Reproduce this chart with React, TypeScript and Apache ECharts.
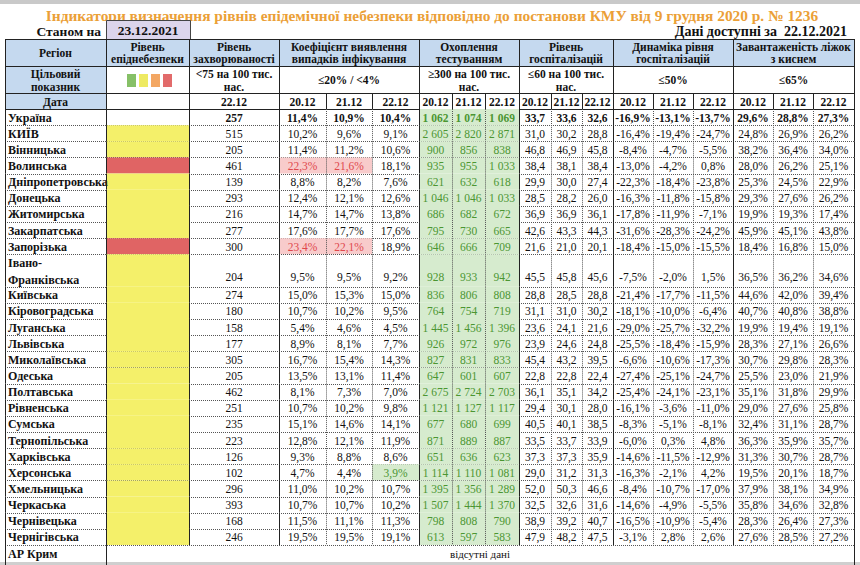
import React, { useEffect, useRef } from "react";
import * as echarts from "echarts";

// ---------- DATA ----------
const TITLE =
  "Індикатори визначення рівнів епідемічної небезпеки відповідно до постанови КМУ від 9 грудня 2020 р. № 1236";
const AS_OF_LABEL = "Станом на";
const AS_OF = "23.12.2021";
const DATA_LABEL = "Дані доступні за  22.12.2021";
const DATES = ["20.12", "21.12", "22.12"];
const INCIDENCE_DATE = "22.12";

const regions = [
  "Україна", "КИЇВ", "Вінницька", "Волинська", "Дніпропетровська", "Донецька",
  "Житомирська", "Закарпатська", "Запорізька", "Івано-\nФранківська", "Київська",
  "Кіровоградська", "Луганська", "Львівська", "Миколаївська", "Одеська",
  "Полтавська", "Рівненська", "Сумська", "Тернопільська", "Харківська",
  "Херсонська", "Хмельницька", "Черкаська", "Чернівецька", "Чернігівська",
];
const levels = [
  "", "yellow", "yellow", "red", "yellow", "yellow", "yellow", "yellow", "red",
  "yellow", "yellow", "yellow", "yellow", "yellow", "yellow", "yellow", "yellow",
  "yellow", "yellow", "yellow", "yellow", "yellow", "yellow", "yellow", "yellow", "yellow",
];
const incidence = [257, 515, 205, 461, 139, 293, 216, 277, 300, 204, 274, 180, 158, 177, 305, 205, 462, 251, 235, 223, 126, 102, 296, 393, 168, 246];

const detect20 = [11.4, 10.2, 11.4, 22.3, 8.8, 12.4, 14.7, 17.6, 23.4, 9.5, 15.0, 10.7, 5.4, 8.9, 16.7, 13.5, 8.1, 10.7, 15.1, 12.8, 9.3, 4.7, 11.0, 10.7, 11.5, 19.5];
const detect21 = [10.9, 9.6, 11.2, 21.6, 8.2, 12.1, 14.7, 17.7, 22.1, 9.5, 15.3, 10.2, 4.6, 8.1, 15.4, 13.1, 7.3, 10.2, 14.6, 12.1, 8.8, 4.4, 10.2, 10.7, 11.1, 19.5];
const detect22 = [10.4, 9.1, 10.6, 18.1, 7.6, 12.6, 13.8, 17.6, 18.9, 9.2, 15.0, 9.5, 4.5, 7.7, 14.3, 11.4, 7.0, 9.8, 14.1, 11.9, 8.6, 3.9, 10.7, 10.2, 11.3, 19.1];

const test20 = [1062, 2605, 900, 935, 621, 1046, 686, 795, 646, 928, 836, 764, 1445, 926, 827, 647, 2675, 1121, 677, 871, 651, 1114, 1395, 1507, 798, 613];
const test21 = [1074, 2820, 856, 955, 632, 1046, 682, 730, 666, 933, 806, 754, 1456, 972, 831, 601, 2724, 1127, 680, 889, 636, 1110, 1356, 1444, 808, 597];
const test22 = [1069, 2871, 838, 1033, 618, 1033, 672, 665, 709, 942, 808, 719, 1396, 976, 833, 607, 2703, 1117, 699, 887, 623, 1081, 1289, 1370, 790, 583];

const hosp20 = [33.7, 31.0, 46.8, 38.4, 29.9, 28.5, 36.9, 42.6, 21.6, 45.5, 28.8, 31.1, 23.6, 23.9, 45.4, 22.8, 36.1, 29.4, 40.5, 33.5, 37.3, 29.0, 52.0, 32.5, 38.9, 47.9];
const hosp21 = [33.6, 30.2, 46.9, 38.1, 30.0, 28.2, 36.9, 43.3, 21.0, 45.8, 28.5, 31.0, 24.1, 24.6, 43.2, 22.8, 35.1, 30.1, 40.1, 33.7, 37.3, 31.2, 50.3, 32.6, 39.2, 48.2];
const hosp22 = [32.6, 28.8, 45.8, 38.4, 27.4, 26.0, 36.1, 44.3, 20.1, 45.6, 28.8, 30.2, 21.6, 24.8, 39.5, 22.4, 34.2, 28.0, 38.5, 33.9, 35.9, 31.3, 46.6, 31.6, 40.7, 47.5];

const dyn20 = [-16.9, -16.4, -8.4, -13.0, -22.3, -16.3, -17.8, -31.6, -18.4, -7.5, -21.4, -18.1, -29.0, -25.5, -6.6, -27.4, -25.4, -16.1, -8.3, -6.0, -14.6, -16.3, -8.4, -14.6, -16.5, -3.1];
const dyn21 = [-13.1, -19.4, -4.7, -4.2, -18.4, -11.8, -11.9, -28.3, -15.0, -2.0, -17.7, -10.0, -25.7, -18.4, -10.6, -25.1, -24.1, -3.6, -5.1, 0.3, -11.5, -2.1, -10.7, -4.9, -10.9, 2.8];
const dyn22 = [-13.7, -24.7, -5.5, 0.8, -23.8, -15.8, -7.1, -24.2, -15.5, 1.5, -11.5, -6.4, -32.2, -15.9, -17.3, -24.7, -23.1, -11.0, -8.1, 4.8, -12.9, 4.2, -17.0, -5.5, -5.4, 2.6];

const oxy20 = [29.6, 24.8, 38.2, 28.0, 25.3, 29.3, 19.9, 45.9, 18.4, 36.5, 44.6, 40.7, 19.9, 28.3, 30.7, 25.5, 35.1, 29.0, 32.4, 36.3, 31.3, 19.5, 37.9, 35.8, 28.3, 27.6];
const oxy21 = [28.8, 26.9, 36.4, 26.2, 24.5, 27.6, 19.3, 45.1, 16.8, 36.2, 42.0, 40.8, 19.4, 27.1, 29.8, 23.0, 31.8, 27.6, 31.1, 35.9, 30.7, 20.1, 38.1, 34.6, 26.4, 28.5];
const oxy22 = [27.3, 26.2, 34.0, 25.1, 22.9, 26.2, 17.4, 43.8, 15.0, 34.6, 39.4, 38.8, 19.1, 26.6, 28.3, 21.9, 29.9, 25.8, 28.7, 35.7, 28.7, 18.7, 34.9, 32.8, 27.3, 27.2];

const NO_DATA_REGION = "АР Крим";
const NO_DATA_TEXT = "відсутні дані";

// ---------- LAYOUT ----------
const W = 860;
const H = 565;
const COLS = [5, 106, 189, 279, 326, 372, 419, 452, 485, 519, 551, 582, 613, 653, 693, 733, 773, 813, 854];
const GROUP_EDGES = [0, 1, 2, 3, 6, 9, 12, 15, 18];
const HY = [39, 66, 93, 109];
const ROW_H = 16.15;
const UNITS = 28;
const SERIF = "Liberation Serif";

const C = {
  title: "#EBA037",
  head: "#C5D9EF",
  yellow: "#F4F06A",
  red: "#E06464",
  pinkBg: "#F8CBCB",
  pinkTx: "#E0484C",
  greenBg: "#D6EBCE",
  greenTx: "#4B9632",
  line: "#222",
  dot: "#555",
  text: "#111",
  asof: "#DCD5EC",
};

const fmt1 = (v: number) => v.toFixed(1).replace(".", ",");
const pct = (v: number) => fmt1(v) + "%";
const thou = (v: number) =>
  v >= 1000 ? `${Math.floor(v / 1000)} ${String(v % 1000).padStart(3, "0")}` : String(v);

function textEl(
  x: number, y: number, text: string, size: number, bold: boolean,
  fill = C.text, align = "center", lh = 12
) {
  return {
    type: "text",
    x,
    y,
    silent: true,
    style: {
      text,
      fontFamily: SERIF,
      fontSize: size,
      fontWeight: bold ? "bold" : "normal",
      fill,
      textAlign: align,
      align,
      textVerticalAlign: "middle",
      verticalAlign: "middle",
      lineHeight: lh,
    },
  };
}
function lineEl(x1: number, y1: number, x2: number, y2: number, dotted = false) {
  return {
    type: "line",
    silent: true,
    shape: { x1, y1, x2, y2 },
    style: {
      stroke: dotted ? C.dot : C.line,
      lineWidth: 1,
      lineDash: dotted ? [1, 1] : null,
    },
  };
}
function rectEl(x: number, y: number, w: number, h: number, fill: string, stroke?: string) {
  return {
    type: "rect",
    silent: true,
    shape: { x, y, width: w, height: h },
    style: { fill, stroke: stroke || null, lineWidth: stroke ? 1 : 0 },
  };
}

function buildHeader() {
  const els: any[] = [];
  const HS = 11.5;
  els.push(rectEl(0, 0, W, 4, "#C9C9C9"));
  els.push(rectEl(0, H - 3, W, 3, "#CFCFCF"));
  els.push(textEl(432, 15, TITLE, 15.4, true, C.title));
  els.push(textEl(101, 31, AS_OF_LABEL, 13.5, true, C.text, "right"));
  els.push(rectEl(106.5, 20.5, 84, 19, C.asof, "#444"));
  els.push(textEl(148, 30.5, AS_OF, 13.5, true));
  els.push(textEl(847, 31, DATA_LABEL, 14, true, C.text, "right"));

  els.push(rectEl(COLS[0], HY[0], COLS[18] - COLS[0], HY[1] - HY[0], C.head));
  els.push(rectEl(COLS[0], HY[1], COLS[1] - COLS[0], HY[3] - HY[1], C.head));

  const cx = (a: number, b: number) => (COLS[a] + COLS[b]) / 2;
  const m1 = (HY[0] + HY[1]) / 2 + 0.5;
  const m2 = (HY[1] + HY[2]) / 2 + 0.5;
  const m3 = (HY[2] + HY[3]) / 2 + 0.5;
  const row1: [number, number, string][] = [
    [0, 1, "Регіон"],
    [1, 2, "Рівень\nепіднебезпеки"],
    [2, 3, "Рівень\nзахворюваності"],
    [3, 6, "Коефіцієнт виявлення\nвипадків інфікування"],
    [6, 9, "Охоплення\nтестуванням"],
    [9, 12, "Рівень\nгоспіталізацій"],
    [12, 15, "Динаміка рівня\nгоспіталізацій"],
    [15, 18, "Завантаженість ліжок\nз киснем"],
  ];
  row1.forEach(([a, b, t]) => els.push(textEl(cx(a, b), m1, t, HS, true)));
  const row2: [number, number, string][] = [
    [0, 1, "Цільовий\nпоказник"],
    [2, 3, "<75 на 100 тис.\nнас."],
    [3, 6, "≤20% / <4%"],
    [6, 9, "≥300 на 100 тис.\nнас."],
    [9, 12, "≤60 на 100 тис.\nнас."],
    [12, 15, "≤50%"],
    [15, 18, "≤65%"],
  ];
  row2.forEach(([a, b, t]) => els.push(textEl(cx(a, b), m2, t, HS, true, C.text, "center", 13)));
  const sw = ["#86C067", "#EEEA62", "#F3A763", "#E26B6B"];
  sw.forEach((f, i) => els.push(rectEl(127 + i * 12, 74, 9, 13, f)));
  els.push(textEl(cx(0, 1), m3, "Дата", HS, true));
  els.push(textEl(cx(2, 3), m3, INCIDENCE_DATE, HS, true));
  for (let g = 0; g < 5; g++) {
    for (let k = 0; k < 3; k++) {
      const a = 3 + g * 3 + k;
      els.push(textEl(cx(a, a + 1), m3, DATES[k], HS, true));
    }
  }
  const px = (v: number) => Math.round(v) + 0.5;
  HY.forEach((y) => els.push(lineEl(COLS[0], px(y), COLS[18], px(y))));
  GROUP_EDGES.forEach((c) => els.push(lineEl(px(COLS[c]), HY[0], px(COLS[c]), HY[3])));
  for (let c = 3; c < 18; c++) {
    if (!GROUP_EDGES.includes(c)) els.push(lineEl(px(COLS[c]), HY[2], px(COLS[c]), HY[3]));
  }
  return els;
}

const rowSpans = regions.map((r) => (r.includes("\n") ? 2 : 1));
const rowStarts: number[] = [];
rowSpans.reduce((acc, s) => {
  rowStarts.push(acc);
  return acc + s;
}, 0);

export default function App() {
  const ref = useRef<HTMLDivElement>(null);
  useEffect(() => {
    if (!ref.current) return;
    const chart = echarts.init(ref.current, null, { renderer: "svg" });
    const px = (v: number) => Math.round(v) + 0.5;

    const data = regions.map((_, i) => [0, rowStarts[i], rowSpans[i], i]);
    const lastStart = rowStarts[rowStarts.length - 1] + rowSpans[rowSpans.length - 1];
    data.push([0, lastStart, 1.35, -1]);

    const renderItem = (params: any, api: any) => {
      const start = api.value(1);
      const span = api.value(2);
      const i = api.value(3);
      const yT = api.coord([0, start])[1];
      const yB = api.coord([0, start + span])[1];
      const X = (c: number) => api.coord([COLS[c], 0])[0];
      const children: any[] = [];
      const bold = i === 0;
      const NS = 11.5;

      if (i < 0) {
        children.push(textEl(X(0) + 3, (yT + yB) / 2 - 2, NO_DATA_REGION, 12, true, C.text, "left"));
        children.push(textEl((X(1) + X(18)) / 2, (yT + yB) / 2 - 2, NO_DATA_TEXT, 11, false));
        [0, 1, 18].forEach((c) => children.push(lineEl(px(X(c)), yT, px(X(c)), yB)));
        return { type: "group", children };
      }

      const ty = span > 1 ? yB - 10 : (yT + yB) / 2 + 0.5;
      if (levels[i] === "yellow") children.push(rectEl(X(1), yT, X(2) - X(1), yB - yT, C.yellow));
      if (levels[i] === "red") children.push(rectEl(X(1), yT, X(2) - X(1), yB - yT, C.red));

      children.push(textEl(X(0) + 3, (yT + yB) / 2 + 0.5, regions[i], 12, true, C.text, "left", 17));
      children.push(textEl((X(2) + X(3)) / 2, ty, String(incidence[i]), NS, bold));

      const cells: { c: number; t: string; kind?: string }[] = [];
      [detect20, detect21, detect22].forEach((arr, k) => {
        const v = arr[i];
        cells.push({ c: 3 + k, t: pct(v), kind: v > 20 ? "pink" : v < 4 ? "green" : "" });
      });
      [test20, test21, test22].forEach((arr, k) => {
        const v = arr[i];
        cells.push({ c: 6 + k, t: thou(v), kind: v >= 300 ? "green" : "" });
      });
      [hosp20, hosp21, hosp22].forEach((arr, k) => cells.push({ c: 9 + k, t: fmt1(arr[i]) }));
      [dyn20, dyn21, dyn22].forEach((arr, k) => cells.push({ c: 12 + k, t: pct(arr[i]) }));
      [oxy20, oxy21, oxy22].forEach((arr, k) => cells.push({ c: 15 + k, t: pct(arr[i]) }));

      cells.forEach(({ c, t, kind }) => {
        let fill = C.text;
        if (kind === "pink") {
          children.push(rectEl(X(c), yT, X(c + 1) - X(c), yB - yT, C.pinkBg));
          fill = C.pinkTx;
        } else if (kind === "green") {
          children.push(rectEl(X(c), yT, X(c + 1) - X(c), yB - yT, C.greenBg));
          fill = C.greenTx;
        }
        children.push(textEl((X(c) + X(c + 1)) / 2, ty, t, NS, bold, fill));
      });

      children.push(lineEl(X(0), px(yB), X(18), px(yB), true));
      for (let c = 0; c <= 18; c++) {
        const solid = GROUP_EDGES.includes(c);
        children.push(lineEl(px(X(c)), yT, px(X(c)), yB, !solid));
      }
      return { type: "group", children };
    };

    chart.setOption({
      animation: false,
      grid: { left: 0, right: 0, top: HY[3], height: UNITS * ROW_H },
      xAxis: { type: "value", min: 0, max: W, show: false },
      yAxis: { type: "value", min: 0, max: UNITS, inverse: true, show: false },
      series: [
        {
          type: "custom",
          coordinateSystem: "cartesian2d",
          clip: false,
          silent: true,
          encode: { x: 0, y: 1 },
          data,
          renderItem,
        },
      ],
      graphic: { elements: buildHeader() },
    });
    return () => chart.dispose();
  }, []);
  return (
    <div
      ref={ref}
      style={{ position: "fixed", left: 0, top: 0, width: W, height: H, background: "#fff" }}
    />
  );
}
